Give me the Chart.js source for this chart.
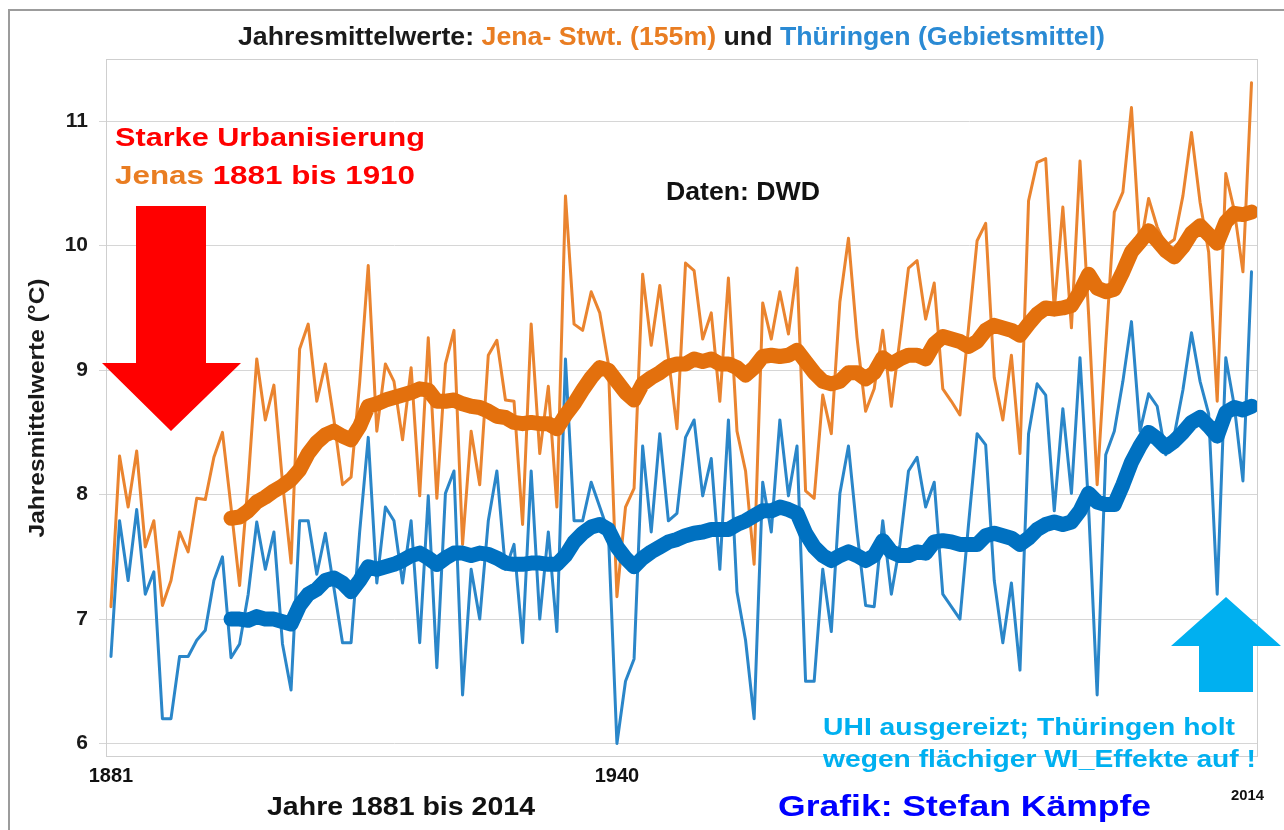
<!DOCTYPE html>
<html lang="de">
<head>
<meta charset="utf-8">
<title>Jahresmittelwerte Jena und Thüringen</title>
<script src="https://cdn.jsdelivr.net/npm/chart.js@4.4.1/dist/chart.umd.min.js"></script>
<style>
  html, body { margin: 0; padding: 0; background: #fff; }
  #wrap { width: 1284px; height: 830px; }
</style>
</head>
<body>
<div id="wrap"><canvas id="temps" width="1284" height="830"></canvas></div>
<script>
const firstYear = 1881;
const lastYear = 2014;
const trendStart = 1895;

// Jena-Sternwarte, Jahresmittel in °C, 1881-2014
const jena = [
  7.10, 8.31, 7.90, 8.35, 7.58, 7.79, 7.11, 7.31, 7.70, 7.54,   // 1881
  7.97, 7.96, 8.30, 8.50, 7.90, 7.27, 8.10, 9.09, 8.60, 8.88,   // 1891
  8.10, 7.45, 9.17, 9.37, 8.75, 9.05, 8.60, 8.08, 8.14, 8.90,   // 1901
  9.84, 8.51, 9.05, 8.91, 8.44, 9.02, 7.99, 9.26, 7.97, 9.05,   // 1911
  9.32, 7.60, 8.51, 8.08, 9.12, 9.24, 8.76, 8.75, 7.76, 9.37,   // 1921
  8.33, 8.87, 7.90, 10.40, 9.37, 9.32, 9.63, 9.46, 9.05, 7.18,  // 1931
  7.90, 8.05, 9.77, 9.20, 9.68, 9.10, 8.53, 9.86, 9.80, 9.25,   // 1941
  9.46, 8.75, 9.74, 8.51, 8.19, 7.44, 9.54, 9.25, 9.63, 9.29,   // 1951
  9.82, 8.03, 7.97, 8.80, 8.49, 9.55, 10.06, 9.26, 8.67, 8.85,  // 1961
  9.32, 8.71, 9.25, 9.82, 9.88, 9.41, 9.70, 8.85, 8.75, 8.64,   // 1971
  9.34, 10.04, 10.18, 8.94, 8.60, 9.12, 8.33, 10.36, 10.67, 10.70, // 1981
  9.48, 10.31, 9.34, 10.68, 9.45, 8.08, 9.20, 10.27, 10.43, 11.11, // 1991
  9.98, 10.38, 10.15, 10.00, 10.05, 10.40, 10.91, 10.35, 9.95, 8.75, // 2001
  10.58, 10.28, 9.79, 11.31                                     // 2011
];

// Thüringen Gebietsmittel, 1881-2014
const thueringen = [
  6.70, 7.79, 7.31, 7.88, 7.20, 7.38, 6.20, 6.20, 6.70, 6.70,
  6.83, 6.91, 7.31, 7.50, 6.69, 6.80, 7.20, 7.78, 7.40, 7.70,
  6.80, 6.43, 7.79, 7.79, 7.36, 7.69, 7.25, 6.81, 6.81, 7.70,
  8.46, 7.29, 7.90, 7.79, 7.29, 7.79, 6.81, 7.99, 6.61, 8.01,
  8.19, 6.39, 7.40, 7.00, 7.79, 8.19, 7.40, 7.60, 6.81, 8.19,
  7.00, 7.70, 6.90, 9.09, 7.79, 7.79, 8.10, 7.90, 7.70, 6.00,
  6.50, 6.68, 8.39, 7.70, 8.49, 7.79, 7.85, 8.46, 8.60, 7.99,
  8.29, 7.40, 8.60, 7.22, 6.83, 6.20, 8.10, 7.70, 8.60, 7.99,
  8.39, 6.50, 6.50, 7.40, 6.90, 8.01, 8.39, 7.70, 7.11, 7.10,
  7.79, 7.20, 7.60, 8.19, 8.30, 7.90, 8.10, 7.20, 7.10, 7.00,
  7.76, 8.49, 8.40, 7.31, 6.81, 7.29, 6.59, 8.49, 8.89, 8.80,
  7.87, 8.69, 8.01, 9.10, 7.90, 6.39, 8.32, 8.51, 8.91, 9.39,
  8.51, 8.81, 8.71, 8.32, 8.48, 8.84, 9.30, 8.91, 8.65, 7.20,
  9.10, 8.71, 8.11, 9.79
];

// dicke Linien (geglaettet), 1895-2014
const jenaTrend = [
  7.81, 7.82, 7.87, 7.94, 7.98, 8.03,                           // 1895
  8.07, 8.12, 8.20, 8.33, 8.42, 8.48, 8.51, 8.47, 8.44, 8.55,   // 1901
  8.71, 8.73, 8.76, 8.78, 8.80, 8.82, 8.85, 8.84, 8.75, 8.75,
  8.76, 8.73, 8.71, 8.70, 8.67, 8.63, 8.62, 8.58, 8.57, 8.58,
  8.57, 8.57, 8.53, 8.64, 8.73, 8.84, 8.94, 9.02, 9.00, 8.91,
  8.82, 8.76, 8.89, 8.94, 8.98, 9.03, 9.05, 9.05, 9.09, 9.07,
  9.09, 9.05, 9.05, 9.02, 8.96, 9.02, 9.11, 9.12, 9.11, 9.12,
  9.16, 9.07, 8.98, 8.91, 8.89, 8.91, 8.98, 8.98, 8.93, 8.98,
  9.10, 9.05, 9.09, 9.12, 9.12, 9.09, 9.21, 9.27, 9.25, 9.23,
  9.19, 9.23, 9.32, 9.36, 9.34, 9.32, 9.28, 9.37, 9.45, 9.50,
  9.49, 9.50, 9.52, 9.63, 9.77, 9.66, 9.63, 9.65, 9.79, 9.95,
  10.03, 10.12, 10.04, 9.96, 9.91, 9.99, 10.10, 10.16, 10.09, 10.02,
  10.19, 10.26, 10.25, 10.27
];

const thueringenTrend = [
  7.00, 7.00, 6.99, 7.02, 7.00, 7.00,
  6.98, 6.96, 7.11, 7.20, 7.24, 7.31, 7.33, 7.29, 7.22, 7.31,
  7.42, 7.40, 7.42, 7.44, 7.47, 7.51, 7.53, 7.49, 7.44, 7.49,
  7.53, 7.53, 7.51, 7.53, 7.52, 7.49, 7.45, 7.44, 7.44, 7.45,
  7.45, 7.44, 7.44, 7.51, 7.62, 7.69, 7.74, 7.76, 7.72, 7.58,
  7.49, 7.42, 7.49, 7.54, 7.58, 7.62, 7.64, 7.67, 7.69, 7.70,
  7.72, 7.72, 7.72, 7.76, 7.79, 7.83, 7.87, 7.87, 7.90, 7.88,
  7.85, 7.69, 7.58, 7.51, 7.47, 7.51, 7.54, 7.51, 7.47, 7.51,
  7.63, 7.54, 7.51, 7.51, 7.54, 7.53, 7.62, 7.63, 7.62, 7.60,
  7.60, 7.60, 7.67, 7.69, 7.67, 7.65, 7.60, 7.65, 7.72, 7.76,
  7.78, 7.76, 7.78, 7.87, 8.01, 7.94, 7.92, 7.92, 8.08, 8.26,
  8.39, 8.50, 8.45, 8.38, 8.43, 8.50, 8.58, 8.62, 8.55, 8.47,
  8.66, 8.70, 8.68, 8.71
];

const xTickYears = [1881, 1940];
const yTicks = [6, 7, 8, 9, 10, 11];

var years = [];
for (var yr = firstYear; yr <= lastYear; yr++) years.push(yr);
var trendYears = years.filter(function (y) { return y >= trendStart; });

function toPoints(xs, ys) {
  return ys.map(function (v, i) { return { x: xs[i], y: v }; });
}

const FONT = "'Liberation Sans', Arial, Helvetica, sans-serif";
const ORANGE_TXT = '#e97d22';
const BLUE_TXT = '#2a8ad4';
const RED = '#ff0000';
const CYAN = '#00b0f0';

// text in a given width (the picture's lettering is set wide)
function fitText(c, parts, x, y, width, size, weight) {
  c.save();
  c.font = (weight || 'bold') + ' ' + size + 'px ' + FONT;
  c.textBaseline = 'alphabetic';
  c.textAlign = 'left';
  var full = parts.map(function (p) { return p[0]; }).join('');
  var k = width / c.measureText(full).width;
  c.translate(x, y);
  c.scale(k, 1);
  var cx = 0;
  parts.forEach(function (p) {
    c.fillStyle = p[1];
    c.fillText(p[0], cx, 0);
    cx += c.measureText(p[0]).width;
  });
  c.restore();
}

function polygon(c, pts, color) {
  c.beginPath();
  pts.forEach(function (p, i) { if (i) c.lineTo(p[0], p[1]); else c.moveTo(p[0], p[1]); });
  c.closePath();
  c.fillStyle = color;
  c.fill();
}

var framePlugin = {
  id: 'frame',
  beforeDraw: function (chart) {
    var c = chart.ctx;
    c.save();
    c.fillStyle = '#fff';
    c.fillRect(0, 0, chart.width, chart.height);
    c.strokeStyle = '#9c9c9c';
    c.lineWidth = 2;
    c.strokeRect(9, 10, 1400, 1000);
    c.restore();
  },
  beforeDatasetsDraw: function (chart) {
    var a = chart.chartArea, c = chart.ctx;
    c.save();
    c.strokeStyle = '#cfcfcf';
    c.lineWidth = 1;
    c.strokeRect(a.left + 0.5, a.top + 0.5, a.right - a.left, a.bottom - a.top);
    c.restore();
  }
};

var notesPlugin = {
  id: 'notes',
  afterDraw: function (chart) {
    var c = chart.ctx;
    fitText(c, [['Jahresmittelwerte: ', '#1a1a1a'], ['Jena- Stwt. (155m)', ORANGE_TXT],
                [' und ', '#1a1a1a'], ['Thüringen (Gebietsmittel)', BLUE_TXT]], 238, 45, 867, 25);

    fitText(c, [['Starke Urbanisierung', RED]], 115, 146, 310, 26);
    fitText(c, [['Jenas', ORANGE_TXT], [' 1881 bis 1910', RED]], 115, 184, 300, 26);
    fitText(c, [['Daten: DWD', '#111']], 666, 200, 154, 25);

    polygon(c, [[136, 206], [206, 206], [206, 363], [241, 363], [171, 431], [102, 363], [136, 363]], RED);
    polygon(c, [[1199, 692], [1199, 646], [1171, 646], [1226, 597], [1281, 646], [1253, 646], [1253, 692]], CYAN);

    fitText(c, [['UHI ausgereizt; Thüringen holt', CYAN]], 823, 735, 412, 23);
    fitText(c, [['wegen flächiger WI_Effekte auf !', CYAN]], 823, 767, 433, 23);
    fitText(c, [['Grafik: Stefan Kämpfe', '#0000ff']], 778, 816, 373, 30);
    fitText(c, [['Jahre 1881 bis 2014', '#111']], 267, 815, 268, 25);
    fitText(c, [['2014', '#111']], 1231, 800, 33, 15);

    // y-axis title, rotated
    c.save();
    c.font = 'bold 22px ' + FONT;
    var t = 'Jahresmittelwerte (°C)';
    var k = 259 / c.measureText(t).width;
    c.translate(38, 408);
    c.rotate(-Math.PI / 2);
    c.scale(k, 1);
    c.textAlign = 'center';
    c.textBaseline = 'middle';
    c.fillStyle = '#1a1a1a';
    c.fillText(t, 0, 0);
    c.restore();
  }
};

var chart = new Chart(document.getElementById('temps').getContext('2d'), {
  type: 'line',
  data: {
    datasets: [
      {
        label: 'Thüringen (geglättet)',
        data: toPoints(trendYears, thueringenTrend),
        borderColor: '#0071c1',
        borderWidth: 15,
        order: 0
      },
      {
        label: 'Jena (geglättet)',
        data: toPoints(trendYears, jenaTrend),
        borderColor: '#e3700d',
        borderWidth: 15,
        order: 1
      },
      {
        label: 'Thüringen',
        data: toPoints(years, thueringen),
        borderColor: '#2a86c9',
        borderWidth: 3,
        order: 2
      },
      {
        label: 'Jena',
        data: toPoints(years, jena),
        borderColor: '#ea842f',
        borderWidth: 3,
        order: 3
      }
    ]
  },
  options: {
    responsive: false,
    animation: false,
    layout: { padding: { left: 0, right: 27, top: 59, bottom: 0 } },
    elements: {
      point: { radius: 0 },
      line: { tension: 0, borderCapStyle: 'round', borderJoinStyle: 'round', fill: false }
    },
    plugins: {
      legend: { display: false },
      tooltip: { enabled: false },
      title: { display: false }
    },
    scales: {
      x: {
        type: 'linear',
        min: 1880.42,
        max: 2014.64,
        grid: { display: false, drawTicks: false },
        border: { color: '#cfcfcf' },
        afterBuildTicks: function (s) { s.ticks = xTickYears.map(function (v) { return { value: v }; }); },
        afterFit: function (s) { s.height = 74; },
        ticks: {
          autoSkip: false,
          maxRotation: 0,
          padding: 8,
          color: '#111',
          font: { family: FONT, size: 20, weight: 'bold' },
          callback: function (v) { return String(v); }
        }
      },
      y: {
        min: 5.9,
        max: 11.5,
        afterBuildTicks: function (s) { s.ticks = yTicks.map(function (v) { return { value: v }; }); },
        afterFit: function (s) { s.width = 106; },
        grid: { color: '#d6d6d6', tickLength: 7 },
        border: { color: '#cfcfcf' },
        ticks: {
          padding: 11,
          color: '#1a1a1a',
          font: { family: FONT, size: 21, weight: 'bold' }
        }
      }
    }
  },
  plugins: [framePlugin, notesPlugin]
});
</script>
</body>
</html>
